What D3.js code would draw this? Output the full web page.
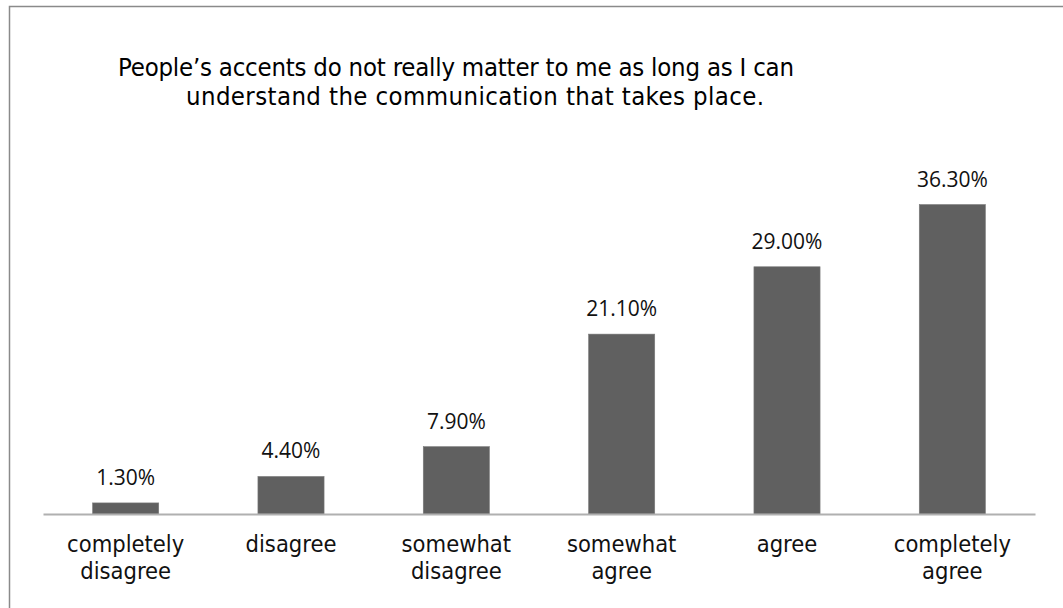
<!DOCTYPE html>
<html>
<head>
<meta charset="utf-8">
<script src="https://cdn.jsdelivr.net/npm/d3@7"></script>
<style>
  html, body { margin: 0; padding: 0; background: #ffffff; }
  svg { display: block; }
</style>
</head>
<body>
<svg id="chart" width="1063" height="608"></svg>
<script>
// Survey responses (% of respondents)
const titleLines = [
  "People\u2019s accents do not really matter to me as long as I can",
  "understand the communication that takes place."
];
const categories = [
  "completely disagree",
  "disagree",
  "somewhat disagree",
  "somewhat agree",
  "agree",
  "completely agree"
];
const values = [1.3, 4.4, 7.9, 21.1, 29.0, 36.3];
const yDomain = [0, 40];

const svg = d3.select("#chart");

const plot = { left: 43, right: 1035, top: 173, bottom: 514 };

const x = d3.scaleBand()
  .domain(categories)
  .range([plot.left, plot.right])
  .paddingInner(0.6)
  .paddingOuter(0.3);

const y = d3.scaleLinear()
  .domain(yDomain)
  .range([plot.bottom, plot.top]);

// chart frame
svg.append("rect")
  .attr("x", 9.5).attr("y", 6.5)
  .attr("width", 1100).attr("height", 700)
  .attr("fill", "none")
  .attr("stroke", "#8a8a8a")
  .attr("stroke-width", 1.5);

// title: two lines, each set between its own left and right edge
const titleFont = "'DejaVu Sans Condensed', 'DejaVu Sans', sans-serif";
const titleLayout = [
  { left: 118, right: 794, baseline: 75.5 },
  { left: 186, right: 764, baseline: 104.5 }
];
svg.append("g")
  .selectAll("text")
  .data(titleLines)
  .join("text")
  .attr("font-family", titleFont)
  .attr("font-size", 25.5)
  .attr("fill", "#000")
  .attr("x", (d, i) => titleLayout[i].left)
  .attr("y", (d, i) => titleLayout[i].baseline)
  .attr("textLength", (d, i) => titleLayout[i].right - titleLayout[i].left)
  .attr("lengthAdjust", "spacing")
  .text(d => d);

// bars
svg.append("g")
  .selectAll("rect")
  .data(values)
  .join("rect")
  .attr("x", (d, i) => x(categories[i]))
  .attr("width", x.bandwidth())
  .attr("y", d => y(d))
  .attr("height", d => y(0) - y(d))
  .attr("fill", "#606060")
  .attr("stroke", "#7a7a7a")
  .attr("stroke-width", 0.6);

// value labels
const fmt = d3.format(".2%");
svg.append("g")
  .selectAll("text")
  .data(values)
  .join("text")
  .attr("x", (d, i) => x(categories[i]) + x.bandwidth() / 2)
  .attr("y", d => y(d) - 18)
  .attr("text-anchor", "middle")
  .attr("font-family", "'Open Sans', sans-serif")
  .attr("font-size", 21)
  .attr("fill", "#111")
  .text(d => fmt(d / 100));

// category axis
const xAxis = d3.axisBottom(x).tickSize(0).tickPadding(0).tickFormat("");
const axisG = svg.append("g")
  .attr("transform", `translate(0,${plot.bottom})`)
  .call(xAxis);
axisG.select(".domain")
  .attr("stroke", "#b0b0b0")
  .attr("stroke-width", 2);

axisG.selectAll(".tick text").remove();
axisG.selectAll(".tick")
  .append("text")
  .attr("font-family", titleFont)
  .attr("font-size", 23.5)
  .attr("fill", "#111")
  .attr("text-anchor", "middle")
  .each(function(d) {
    const words = d.split(" ");
    d3.select(this).selectAll("tspan")
      .data(words)
      .join("tspan")
      .attr("x", 0)
      .attr("y", (w, i) => 38 + i * 27)
      .text(w => w);
  });
</script>
</body>
</html>
